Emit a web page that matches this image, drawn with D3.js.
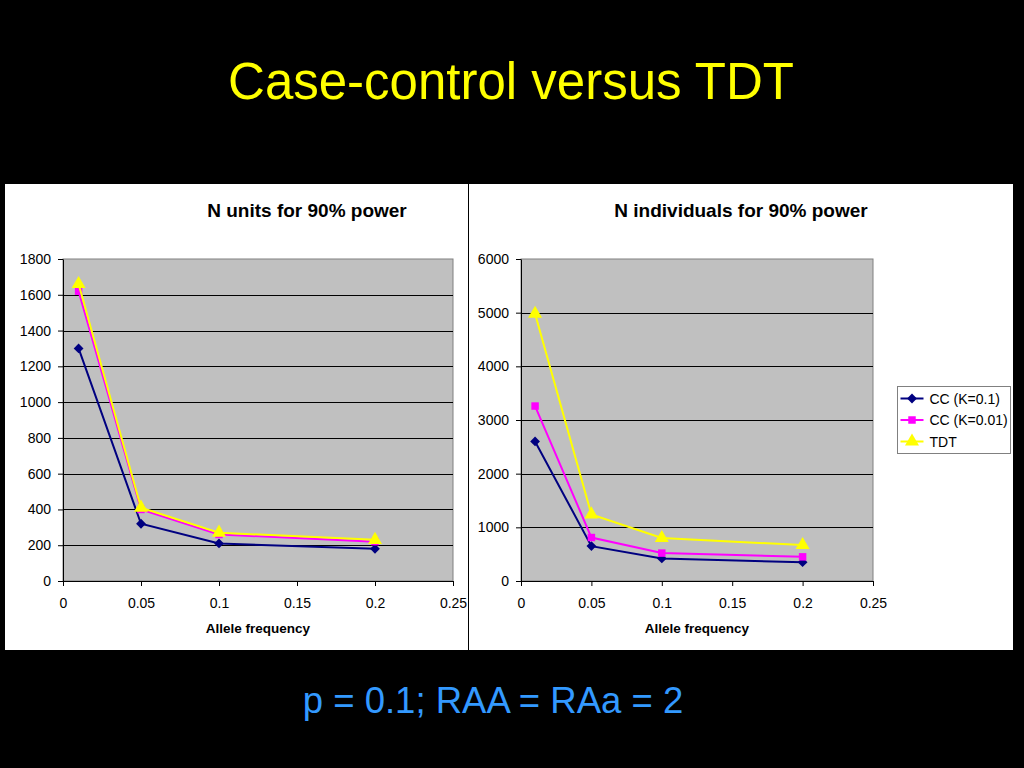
<!DOCTYPE html>
<html>
<head>
<meta charset="utf-8">
<script src="https://cdn.jsdelivr.net/npm/d3@7"></script>
<style>
  html, body { margin: 0; padding: 0; background: #000; }
  svg { display: block; font-family: "Liberation Sans", Arial, sans-serif; }
</style>
</head>
<body>
<svg id="slide" width="1024" height="768"></svg>
<script>
// ── Data ──────────────────────────────────────────────────
const alleleFreq   = [0.01, 0.05, 0.1, 0.2];
const seriesNames  = ["CC (K=0.1)", "CC (K=0.01)", "TDT"];

const unitsCC01    = [1300, 320, 210, 180];
const unitsCC001   = [1620, 400, 260, 220];
const unitsTDT     = [1660, 410, 270, 230];

const indivCC01    = [2600, 650, 420, 350];
const indivCC001   = [3260, 810, 520, 450];
const indivTDT     = [4980, 1240, 800, 670];

const xTicks       = [0, 0.05, 0.1, 0.15, 0.2, 0.25];
const unitsTicks   = [0, 200, 400, 600, 800, 1000, 1200, 1400, 1600, 1800];
const indivTicks   = [0, 1000, 2000, 3000, 4000, 5000, 6000];

const COLOURS = ["#000080", "#ff00ff", "#ffff00"];
// diamond = square turned 45°
const SHAPES  = [d3.symbolSquare, d3.symbolSquare, d3.symbolTriangle];
const SIZES   = [48, 56, 85];
const ROTATE  = [45, 0, 0];

const svg = d3.select("#slide");

svg.append("rect").attr("width", 1024).attr("height", 768).attr("fill", "#000");

// Slide title + footnote
svg.append("text")
  .attr("x", 511).attr("y", 99)
  .attr("text-anchor", "middle").attr("fill", "#ffff00")
  .attr("font-size", 51)
  .text("Case-control versus TDT");

svg.append("text")
  .attr("x", 493).attr("y", 713)
  .attr("text-anchor", "middle").attr("fill", "#3399ff")
  .attr("font-size", 36.5)
  .text("p = 0.1; RAA = RAa = 2");

// White chart panels
svg.append("rect")
  .attr("x", 5).attr("y", 184).attr("width", 1008).attr("height", 466)
  .attr("fill", "#fff");
svg.append("line")
  .attr("x1", 468.5).attr("x2", 468.5).attr("y1", 184).attr("y2", 650)
  .attr("stroke", "#000").attr("stroke-width", 1);

function marker(sel, s) {
  sel.attr("d", d3.symbol().type(SHAPES[s]).size(SIZES[s]))
    .attr("fill", COLOURS[s]);
}

function drawPanel(opts) {
  const { left, right, top, bottom, yMax, yTicks, series, title, titleX } = opts;

  const x = d3.scaleLinear().domain([0, 0.25]).range([left, right]);
  const y = d3.scaleLinear().domain([0, yMax]).range([bottom, top]);
  const g = svg.append("g");

  // Plot area
  g.append("rect")
    .attr("x", left).attr("y", top)
    .attr("width", right - left).attr("height", bottom - top)
    .attr("fill", "#c0c0c0").attr("stroke", "#808080").attr("stroke-width", 1);

  // Grid
  g.append("g")
    .selectAll("line").data(yTicks.filter(t => t > 0 && t < yMax)).join("line")
    .attr("x1", left).attr("x2", right)
    .attr("y1", d => Math.round(y(d)) + 0.5).attr("y2", d => Math.round(y(d)) + 0.5)
    .attr("stroke", "#000").attr("stroke-width", 1);

  // Y axis
  g.append("g").attr("transform", `translate(${left},0)`)
    .call(d3.axisLeft(y).tickValues(yTicks).tickSize(5).tickSizeOuter(0).tickPadding(7)
      .tickFormat(d3.format("d")))
    .call(ax => ax.select(".domain").attr("stroke", "#000"))
    .call(ax => ax.selectAll("line").attr("stroke", "#000"))
    .call(ax => ax.selectAll("text").attr("fill", "#000").attr("font-size", 14)
      .attr("font-family", "Liberation Sans, Arial, sans-serif"));

  // X axis
  g.append("g").attr("transform", `translate(0,${bottom})`)
    .call(d3.axisBottom(x).tickValues(xTicks).tickSize(5).tickSizeOuter(0).tickPadding(12)
      .tickFormat(d3.format("")))
    .call(ax => ax.select(".domain").attr("stroke", "#000"))
    .call(ax => ax.selectAll("line").attr("stroke", "#000"))
    .call(ax => ax.selectAll("text").attr("fill", "#000").attr("font-size", 14)
      .attr("font-family", "Liberation Sans, Arial, sans-serif"));

  // Titles
  g.append("text")
    .attr("x", titleX).attr("y", 217)
    .attr("text-anchor", "middle").attr("font-weight", "bold").attr("font-size", 19)
    .text(title);

  g.append("text")
    .attr("x", (left + right) / 2).attr("y", 633)
    .attr("text-anchor", "middle").attr("font-weight", "bold").attr("font-size", 13.5)
    .text("Allele frequency");

  // Series lines + markers
  const line = d3.line().x((d, i) => x(alleleFreq[i])).y(d => y(d));
  series.forEach((vals, s) => {
    g.append("path").datum(vals)
      .attr("d", line)
      .attr("fill", "none").attr("stroke", COLOURS[s]).attr("stroke-width", 2);
    g.selectAll(null).data(vals).join("path")
      .attr("transform", (d, i) => `translate(${x(alleleFreq[i])},${y(d)}) rotate(${ROTATE[s]})`)
      .call(marker, s);
  });
}

drawPanel({
  left: 63, right: 453, top: 259, bottom: 581,
  yMax: 1800, yTicks: unitsTicks,
  series: [unitsCC01, unitsCC001, unitsTDT],
  title: "N units for 90% power", titleX: 307
});

drawPanel({
  left: 521, right: 873, top: 259, bottom: 581,
  yMax: 6000, yTicks: indivTicks,
  series: [indivCC01, indivCC001, indivTDT],
  title: "N individuals for 90% power", titleX: 741
});

// Legend
const legend = svg.append("g").attr("transform", "translate(897.5,386.5)");
legend.append("rect")
  .attr("width", 113).attr("height", 67)
  .attr("fill", "#fff").attr("stroke", "#808080").attr("stroke-width", 1);

const rows = legend.selectAll("g.row").data(seriesNames).join("g")
  .attr("class", "row")
  .attr("transform", (d, i) => `translate(0,${12 + i * 21.5})`);
rows.append("line")
  .attr("x1", 3).attr("x2", 26).attr("y1", 0).attr("y2", 0)
  .attr("stroke", (d, i) => COLOURS[i]).attr("stroke-width", 2);
rows.each(function(d, i) {
  d3.select(this).append("path")
    .attr("transform", `translate(14.5,0) rotate(${ROTATE[i]})`)
    .call(marker, i);
});
rows.append("text")
  .attr("x", 32).attr("y", 0).attr("dy", "0.36em")
  .attr("font-size", 14).attr("fill", "#000")
  .text(d => d);
</script>
</body>
</html>
